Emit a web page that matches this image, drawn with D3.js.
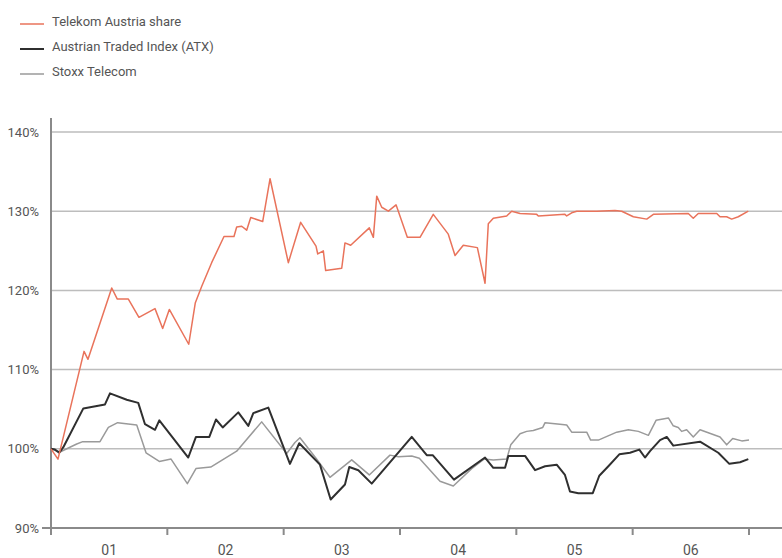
<!DOCTYPE html>
<html>
<head>
<meta charset="utf-8">
<title>Telekom Austria share vs ATX and Stoxx Telecom</title>
<style>
    body { margin: 0; background: #fff; }
    svg { display: block; font-family: Roboto, 'Open Sans', sans-serif; }
    .grid line { stroke: #bdbdbd; stroke-width: 1.5; }
    .y-label { font-size: 13px; fill: #555; }
    .x-label { font-size: 14px; fill: #555; }
    .legend-text { font-size: 13px; fill: #555; }
</style>
</head>
<body>
<svg width="782" height="558"></svg>
<script src="https://d3js.org/d3.v7.min.js"></script>
<script>
// time in years since start of 2001, values in % (start = 100)
let telekomT = [0, 0.06, 0.284, 0.318, 0.522, 0.570, 0.665, 0.756, 0.894, 0.960, 1.017, 1.184, 1.240, 1.295,
    1.381, 1.487, 1.573, 1.596, 1.639, 1.682, 1.717, 1.820, 1.883, 2.040, 2.146, 2.278, 2.293, 2.341, 2.361,
    2.499, 2.527, 2.576, 2.736, 2.771, 2.800, 2.843, 2.900, 2.966, 3.063, 3.172, 3.286, 3.415, 3.473, 3.544,
    3.665, 3.731, 3.759, 3.802, 3.917, 3.960, 4.032, 4.175, 4.189, 4.418, 4.433, 4.476, 4.519, 4.691, 4.848,
    4.906, 5.006, 5.121, 5.178, 5.478, 5.521, 5.564, 5.723, 5.751, 5.808, 5.851, 5.908, 5.994];
let telekomV = [100, 98.7, 112.3, 111.3, 120.3, 118.9, 118.9, 116.6, 117.7, 115.2, 117.6, 113.2, 118.4, 120.5,
    123.5, 126.8, 126.8, 128, 128.1, 127.6, 129.2, 128.7, 134.1, 123.5, 128.6, 125.6, 124.6, 125, 122.5,
    122.8, 126, 125.7, 127.9, 126.7, 131.9, 130.5, 130, 130.8, 126.7, 126.7, 129.6, 127.1, 124.4, 125.7,
    125.4, 120.9, 128.4, 129.1, 129.4, 130, 129.7, 129.6, 129.4, 129.6, 129.4, 129.8, 130, 130, 130.1,
    130, 129.3, 129, 129.6, 129.7, 129.1, 129.7, 129.7, 129.3, 129.3, 129, 129.3, 130];

let atxT = [0, 0.034, 0.071, 0.106, 0.278, 0.464, 0.507, 0.651, 0.750, 0.808, 0.894, 0.931, 1.180, 1.246,
    1.361, 1.418, 1.476, 1.610, 1.696, 1.739, 1.868, 2.054, 2.134, 2.312, 2.404, 2.527, 2.564, 2.642, 2.757,
    3.101, 3.230, 3.281, 3.464, 3.731, 3.802, 3.903, 3.931, 4.075, 4.161, 4.247, 4.347, 4.418, 4.461, 4.533,
    4.657, 4.713, 4.791, 4.885, 4.977, 5.057, 5.106, 5.149, 5.235, 5.293, 5.349, 5.579, 5.736, 5.831, 5.923, 5.994];
let atxV = [100, 99.9, 99.5, 100.2, 105.1, 105.6, 107, 106.2, 105.8, 103.1, 102.4, 103.6, 98.9, 101.5,
    101.5, 103.7, 102.7, 104.6, 102.9, 104.5, 105.2, 98.1, 100.7, 98, 93.6, 95.5, 97.7, 97.3, 95.6,
    101.5, 99.2, 99.2, 96.1, 98.9, 97.6, 97.6, 99.1, 99.1, 97.3, 97.8, 98, 96.7, 94.6, 94.4,
    94.4, 96.6, 97.8, 99.3, 99.5, 99.9, 98.9, 99.7, 101.1, 101.5, 100.4, 100.9, 99.5, 98.1, 98.3, 98.7];

let stoxxT = [0, 0.077, 0.221, 0.273, 0.421, 0.493, 0.573, 0.737, 0.817, 0.931, 1.032, 1.172, 1.246, 1.373,
    1.596, 1.811, 2.026, 2.097, 2.140, 2.278, 2.398, 2.585, 2.736, 2.914, 2.986, 3.101, 3.166, 3.344, 3.458,
    3.616, 3.722, 3.802, 3.917, 3.952, 4.032, 4.089, 4.146, 4.227, 4.247, 4.375, 4.433, 4.476, 4.605, 4.639,
    4.705, 4.863, 4.963, 5.049, 5.135, 5.201, 5.307, 5.349, 5.392, 5.421, 5.464, 5.521, 5.579, 5.751, 5.808,
    5.860, 5.938, 6.0];
let stoxxV = [100, 99.6, 100.6, 100.9, 100.9, 102.7, 103.3, 103, 99.5, 98.4, 98.7, 95.6, 97.5, 97.7,
    99.7, 103.4, 99.4, 100.8, 101.4, 98.8, 96.4, 98.6, 96.7, 99.2, 99, 99.1, 98.8, 95.9, 95.3,
    97.5, 98.7, 98.6, 98.7, 100.5, 101.9, 102.2, 102.3, 102.7, 103.3, 103.1, 103, 102.1, 102.1, 101.1,
    101.1, 102.1, 102.4, 102.2, 101.7, 103.6, 103.9, 102.9, 102.7, 102.2, 102.4, 101.5, 102.4, 101.5, 100.5,
    101.3, 101, 101.1];

let yTicks = [90, 100, 110, 120, 130, 140];
let yearLabels = ['01', '02', '03', '04', '05', '06'];

let seriesNames = ['Telekom Austria share', 'Austrian Traded Index (ATX)', 'Stoxx Telecom'];
let seriesColors = ['#e9735b', '#2f2f2f', '#9a9a9a'];
let seriesWidths = [1.5, 2, 1.5];

let svg = d3.select('svg');

let x = d3.scaleLinear().domain([0, 6]).range([51, 749]);
let y = d3.scaleLinear().domain([90, 140]).range([528, 132]);

// gridlines
svg.append('g')
    .attr('class', 'grid')
    .selectAll('line')
    .data(yTicks.slice(1))
    .join('line')
    .attr('x1', 51)
    .attr('x2', 782)
    .attr('y1', d => y(d))
    .attr('y2', d => y(d));

// y labels
svg.append('g')
    .selectAll('text')
    .data(yTicks)
    .join('text')
    .attr('class', 'y-label')
    .attr('x', 39)
    .attr('y', d => y(d))
    .attr('dy', '0.35em')
    .attr('text-anchor', 'end')
    .text(d => d + '%');

// x axis line + ticks
svg.append('line')
    .attr('x1', 42).attr('x2', 782)
    .attr('y1', y(90)).attr('y2', y(90))
    .attr('stroke', '#8a8a8a').attr('stroke-width', 2);

svg.append('g')
    .selectAll('line')
    .data(d3.range(0, 7))
    .join('line')
    .attr('x1', d => x(d)).attr('x2', d => x(d))
    .attr('y1', y(90)).attr('y2', y(90) + 7)
    .attr('stroke', '#8a8a8a').attr('stroke-width', 2);

svg.append('g')
    .selectAll('text')
    .data(yearLabels)
    .join('text')
    .attr('class', 'x-label')
    .attr('x', (d, i) => x(i + 0.5))
    .attr('y', 555)
    .attr('text-anchor', 'middle')
    .text(d => d);

// y axis line
svg.append('line')
    .attr('x1', 51).attr('x2', 51)
    .attr('y1', 118).attr('y2', 535)
    .attr('stroke', '#8a8a8a').attr('stroke-width', 2);

// series
let line = d3.line()
    .x(d => x(d[0]))
    .y(d => y(d[1]));

let allSeries = [
    d3.zip(stoxxT, stoxxV),
    d3.zip(atxT, atxV),
    d3.zip(telekomT, telekomV)
];
let drawOrder = [2, 1, 0];

allSeries.forEach((pts, i) => {
    let k = drawOrder[i];
    svg.append('path')
        .datum(pts)
        .attr('fill', 'none')
        .attr('stroke', seriesColors[k])
        .attr('stroke-width', seriesWidths[k])
        .attr('stroke-linejoin', 'round')
        .attr('d', line);
});

// legend
let legend = svg.append('g')
    .selectAll('g')
    .data(seriesNames)
    .join('g')
    .attr('transform', (d, i) => `translate(20, ${21 + i * 25})`);

legend.append('line')
    .attr('x1', 0).attr('x2', 24)
    .attr('y1', 3).attr('y2', 3)
    .attr('stroke', (d, i) => seriesColors[i])
    .attr('stroke-width', (d, i) => seriesWidths[i]);

legend.append('text')
    .attr('class', 'legend-text')
    .attr('x', 32)
    .attr('y', 0)
    .attr('dy', '0.35em')
    .text(d => d);
</script>
</body>
</html>
